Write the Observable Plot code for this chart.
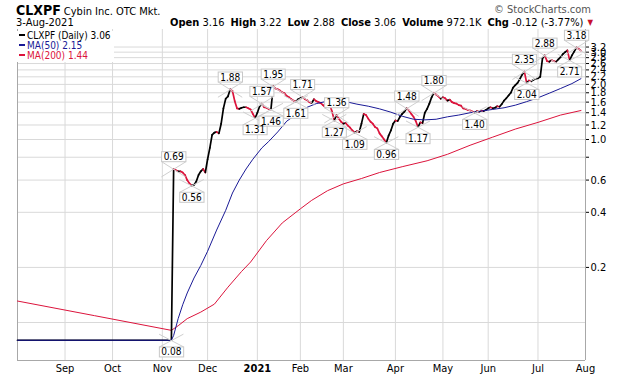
<!DOCTYPE html>
<html>
<head>
<meta charset="utf-8">
<script src="https://cdn.jsdelivr.net/npm/d3@7"></script>
<script src="https://cdn.jsdelivr.net/npm/@observablehq/plot@0.6"></script>
<style>
  body { margin: 0; background: #fff; }
  #wrap { position: relative; width: 620px; height: 376px; overflow: hidden; font-family: "DejaVu Sans Condensed", "DejaVu Sans", sans-serif; color: #000; }
  #hdr { position: relative; height: 29px; }
  #title { position: absolute; left: 16px; top: 0px; white-space: nowrap; }
  #sym { font-size: 14px; font-weight: bold; }
  #name { font-size: 11px; margin-left: 3px; }
  #sc { position: absolute; right: 29px; top: 3px; font-size: 11px; color: #555; white-space: nowrap; }
  #date { position: absolute; left: 16px; top: 16px; font-size: 11px; white-space: nowrap; }
  #quote { position: absolute; right: 27px; top: 16px; font-size: 11px; white-space: nowrap; }
  #quote b { margin-left: 6px; }
  #quote .tri { color: #c8102e; font-size: 8px; margin-left: 4px; vertical-align: 1px; }
  #legend { position: absolute; left: 17px; top: 31px; background: #fff; padding: 0 3px 1px 2px; font-size: 10px; line-height: 10px; }
  #legend .row { white-space: nowrap; }
  #legend .sw { display: inline-block; width: 6px; height: 2px; vertical-align: 3px; margin-right: 2px; }
</style>
</head>
<body>
<div id="wrap">
  <div id="hdr">
    <div id="title"><span id="sym"></span><span id="name"></span></div>
    <div id="sc">© StockCharts.com</div>
    <div id="date"></div>
    <div id="quote"></div>
  </div>
  <div id="chart"></div>
  <div id="legend"></div>
</div>
<script>
// ---------- header / legend text ----------
const symbol = "CLXPF";
const companyName = "Cybin Inc. OTC Mkt.";
const quoteDate = "3-Aug-2021";
const quoteLabels = ["Open", "High", "Low", "Close", "Volume", "Chg"];
const quoteValues = ["3.16", "3.22", "2.88", "3.06", "972.1K", "-0.12 (-3.77%)"];
const legendNames = ["CLXPF (Daily) 3.06", "MA(50) 2.15", "MA(200) 1.44"];
const legendColors = ["#000000", "#1a1a96", "#dc143c"];

// ---------- x axis (trading-day index) ----------
const monthDays = [21, 42, 64, 84, 106, 125, 144, 167, 188, 208, 230, 251];
const monthLabels = ["Sep", "Oct", "Nov", "Dec", "2021", "Feb", "Mar", "Apr", "May", "Jun", "Jul", "Aug"];

// ---------- y axis (log) ----------
const yTicks = [0.2, 0.4, 0.6, 0.8, 1.0, 1.2, 1.4, 1.6, 1.8, 2.0, 2.2, 2.4, 2.6, 2.8, 3.0, 3.2];
const yGrid = [0.1, 0.2, 0.4, 0.6, 0.8, 1.0, 1.2, 1.4, 1.6, 1.8, 2.0, 2.2, 2.4, 2.6, 2.8, 3.0, 3.2];

// ---------- price ----------
const preListingDays = [0, 68];
const preListingClose = [0.08, 0.08];
const listingDay = 69;
const closes = [
  0.69,0.68,0.67,0.67,0.66,0.64,0.60,0.575,0.56,0.565,
  0.59,0.64,0.67,0.69,0.66,0.78,0.90,1.06,1.09,1.10,
  1.08,1.22,1.48,1.67,1.72,1.88,1.84,1.62,1.48,1.47,
  1.49,1.50,1.50,1.48,1.46,1.38,1.31,1.40,1.52,1.57,
  1.50,1.49,1.47,1.46,1.95,1.90,1.88,1.85,1.81,1.79,
  1.73,1.70,1.66,1.63,1.61,1.66,1.68,1.71,1.66,1.64,
  1.60,1.58,1.66,1.62,1.60,1.58,1.54,1.50,1.53,1.55,
  1.42,1.27,1.36,1.30,1.25,1.22,1.23,1.19,1.16,1.12,
  1.09,1.11,1.10,1.22,1.38,1.36,1.30,1.25,1.22,1.17,
  1.15,1.08,1.04,1.00,0.96,1.05,1.12,1.22,1.27,1.26,
  1.33,1.38,1.42,1.48,1.44,1.38,1.33,1.26,1.17,1.24,
  1.23,1.40,1.47,1.57,1.70,1.80,1.76,1.72,1.67,1.70,
  1.68,1.63,1.65,1.60,1.58,1.57,1.54,1.53,1.48,1.47,
  1.45,1.44,1.42,1.40,1.43,1.42,1.44,1.43,1.45,1.48,
  1.50,1.48,1.49,1.52,1.51,1.56,1.63,1.68,1.74,1.80,
  1.92,1.98,2.04,2.14,2.26,2.35,2.04,2.10,2.08,2.12,
  2.14,2.16,2.20,2.78,2.88,2.68,2.66,2.72,2.68,2.66,
  2.74,2.82,2.93,3.00,3.07,2.71,2.88,3.02,3.18,3.12,
  3.06
];

// ---------- moving averages ----------
const ma50Days = [0,68,69,71,73,75,78,81,84,88,92,95,98,101,104,108,111,115,119,124,128,132,136,140,145,150,155,160,165,170,175,180,185,190,195,200,205,210,215,220,225,230,235,240,245,249];
const ma50Vals = [0.08,0.08,0.085,0.105,0.125,0.145,0.175,0.205,0.245,0.32,0.41,0.51,0.60,0.69,0.78,0.90,0.975,1.10,1.26,1.39,1.50,1.57,1.61,1.63,1.61,1.56,1.52,1.47,1.41,1.34,1.29,1.28,1.29,1.33,1.36,1.40,1.43,1.46,1.49,1.54,1.61,1.69,1.79,1.90,2.02,2.15];
const ma200Days = [0,34,68,71,75,81,87,93,99,103,110,117,125,130,137,144,152,160,170,181,190,200,210,220,230,240,249];
const ma200Vals = [0.131,0.109,0.0906,0.096,0.105,0.114,0.126,0.156,0.19,0.214,0.28,0.35,0.418,0.465,0.525,0.572,0.612,0.66,0.71,0.765,0.83,0.93,1.03,1.14,1.24,1.36,1.44];

// ---------- swing annotations ----------
const noteDays = [68,69,77,94,105,108,112,113,123,126,140,141,149,163,172,177,184,202,224,225,233,244,247];
const noteVals = [0.08,0.69,0.56,1.88,1.31,1.57,1.46,1.95,1.61,1.71,1.27,1.36,1.09,0.96,1.48,1.17,1.80,1.40,2.35,2.04,2.88,2.71,3.18];
const noteKind = ["L","H","L","H","L","H","L","H","L","H","L","H","L","L","H","L","H","L","H","L","H","L","H"];

// ---------- build tables ----------
const price = preListingDays.map((d, i) => ({day: d, close: preListingClose[i]}))
  .concat(closes.map((c, k) => ({day: listingDay + k, close: c})));
const segs = [];
for (let k = 1; k < price.length; k++) {
  segs.push({x1: price[k-1].day, y1: price[k-1].close, x2: price[k].day, y2: price[k].close, up: price[k].close >= price[k-1].close});
}
const ma50 = ma50Days.map((d, i) => ({day: d, v: ma50Vals[i]}));
const ma200 = ma200Days.map((d, i) => ({day: d, v: ma200Vals[i]}));
const notes = noteDays.map((d, i) => ({day: d, v: noteVals[i], kind: noteKind[i], label: noteVals[i].toFixed(2)}));
const months = monthDays.map((d, i) => ({day: d, label: monthLabels[i]}));

const FONT = '"DejaVu Sans Condensed", "DejaVu Sans", sans-serif';
const RED = "#dc143c", NAVY = "#1a1a96", GRID = "#d9d9d9", FRAME = "#a8a8a8";
const NOTE_DY = 12;

const chart = Plot.plot({
  width: 620,
  height: 347,
  marginTop: 0,
  marginBottom: 16,
  marginLeft: 17,
  marginRight: 35,
  style: {fontFamily: FONT, fontSize: "11px", background: "transparent", color: "#000", overflow: "visible"},
  x: {domain: [0, 251], axis: null},
  y: {type: "log", domain: [0.062, 3.99], axis: "right", ticks: yTicks, tickFormat: d => d.toFixed(1), tickSize: 3, tickPadding: 2, label: null},
  marks: [
    Plot.ruleY(yGrid, {stroke: GRID, strokeWidth: 1}),
    Plot.ruleX(monthDays, {stroke: GRID, strokeWidth: 1}),
    Plot.ruleX([0], {stroke: FRAME}),
    Plot.ruleX([251], {stroke: FRAME}),
    Plot.ruleY([0.062], {stroke: FRAME}),
    Plot.text(months.filter(m => m.label !== "2021"), {x: "day", text: "label", frameAnchor: "bottom", dy: 8, lineAnchor: "middle", fontSize: 11, fill: "#000"}),
    Plot.text(months.filter(m => m.label === "2021"), {x: "day", text: "label", frameAnchor: "bottom", dy: 8, lineAnchor: "middle", fontSize: 11, fontWeight: "bold", fill: "#000"}),
    Plot.line(ma200, {x: "day", y: "v", stroke: RED, strokeWidth: 1}),
    Plot.link(segs, {x1: "x1", y1: "y1", x2: "x2", y2: "y2", stroke: d => d.up ? "#000" : RED, strokeWidth: 1.7, strokeLinecap: "round"}),
    Plot.line(ma50, {x: "day", y: "v", stroke: NAVY, strokeWidth: 1}),
    Plot.text(notes.filter(n => n.kind === "H"), {x: "day", y: "v", text: "label", dy: -NOTE_DY, lineAnchor: "middle", fontSize: 10, fill: "#000"}),
    Plot.text(notes.filter(n => n.kind === "L"), {x: "day", y: "v", text: "label", dy: NOTE_DY, lineAnchor: "middle", fontSize: 10, fill: "#000"})
  ]
});
document.getElementById("chart").append(chart);

// boxes + pointer crosses behind the annotation texts (the last two text marks)
const textGroups = Array.from(chart.children).filter(n => n.tagName.toLowerCase() === "g" && n.getAttribute("aria-label") === "text");
const highG = textGroups[textGroups.length - 2];
const lowG = textGroups[textGroups.length - 1];
const deco = document.createElementNS("http://www.w3.org/2000/svg", "g");
deco.setAttribute("aria-label", "note-boxes");
if (highG) chart.insertBefore(deco, highG);
const dsel = d3.select(deco);
for (const [g, side] of [[highG, -1], [lowG, 1]]) {
  if (!g) continue;
  g.querySelectorAll("text").forEach(t => {
    const b = t.getBBox();
    const m = t.getCTM();
    const ax = parseFloat(t.getAttribute("x")) || 0;
    const ay = parseFloat(t.getAttribute("y")) || 0;
    const px = m.a * ax + m.c * ay + m.e;
    const py = (m.b * ax + m.d * ay + m.f) - side * NOTE_DY;
    const x0 = m.e + b.x - 2, x1 = m.e + b.x + b.width + 2;
    const y0 = m.f + b.y + 0.5, y1 = m.f + b.y + b.height - 0.5;
    const near = side < 0 ? y1 : y0;
    dsel.append("line").attr("x1", x0).attr("y1", near).attr("x2", 2 * px - x0).attr("y2", 2 * py - near).attr("stroke", "#cfcfcf");
    dsel.append("line").attr("x1", x1).attr("y1", near).attr("x2", 2 * px - x1).attr("y2", 2 * py - near).attr("stroke", "#cfcfcf");
    dsel.append("rect").attr("x", x0).attr("y", y0).attr("width", x1 - x0).attr("height", y1 - y0)
      .attr("fill", "#fff").attr("stroke", "#c8c8c8");
  });
}

// header
document.getElementById("sym").textContent = symbol;
document.getElementById("name").textContent = companyName;
document.getElementById("date").textContent = quoteDate;
const q = document.getElementById("quote");
quoteLabels.forEach((l, i) => {
  const b = document.createElement("b"); b.textContent = l; q.append(b);
  q.append(" " + quoteValues[i]);
});
const tri = document.createElement("span"); tri.className = "tri"; tri.textContent = "▼"; q.append(tri);

// legend
const lg = document.getElementById("legend");
legendNames.forEach((n, i) => {
  const row = document.createElement("div"); row.className = "row"; row.style.color = legendColors[i];
  const sw = document.createElement("span"); sw.className = "sw"; sw.style.background = legendColors[i];
  row.append(sw, n); lg.append(row);
});
</script>
</body>
</html>
